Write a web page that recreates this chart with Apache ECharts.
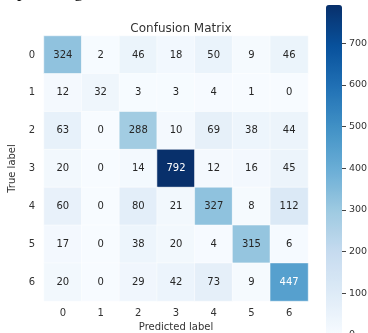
<!DOCTYPE html>
<html>
<head>
<meta charset="utf-8">
<script src="https://cdn.jsdelivr.net/npm/echarts@6/dist/echarts.min.js"></script>
<style>
  html, body { margin: 0; padding: 0; background: #ffffff; }
  #chart { width: 368px; height: 333px; }
</style>
</head>
<body>
<div id="chart"></div>
<script>
// Class labels on both axes
const predictedLabels = ['0', '1', '2', '3', '4', '5', '6'];
const trueLabels = ['0', '1', '2', '3', '4', '5', '6'];

// Confusion counts, one row per true label
const row0 = [324, 2, 46, 18, 50, 9, 46];
const row1 = [12, 32, 3, 3, 4, 1, 0];
const row2 = [63, 0, 288, 10, 69, 38, 44];
const row3 = [20, 0, 14, 792, 12, 16, 45];
const row4 = [60, 0, 80, 21, 327, 8, 112];
const row5 = [17, 0, 38, 20, 4, 315, 6];
const row6 = [20, 0, 29, 42, 73, 9, 447];
const matrixRows = [row0, row1, row2, row3, row4, row5, row6];

// Colour bar range and ticks
const colorMin = 0;
const colorMax = 792;
const colorTicks = [0, 100, 200, 300, 400, 500, 600, 700];

// matplotlib "Blues" colour map stops
const blues = ['#f7fbff', '#deebf7', '#c6dbef', '#9ecae1', '#6baed6',
               '#4292c6', '#2171b5', '#08519c', '#08306b'];

const FONT = 'DejaVu Sans';
const TEXT = '#333333';

const cells = [];
matrixRows.forEach((row, r) => {
  row.forEach((v, c) => {
    cells.push({
      value: [c, r, v],
      label: { color: v > 0.5 * colorMax ? '#ffffff' : '#262626' }
    });
  });
});

const chart = echarts.init(document.getElementById('chart'), null, { renderer: 'canvas' });

chart.setOption({
  animation: false,
  backgroundColor: '#ffffff',
  title: {
    text: 'Confusion Matrix',
    left: 176,
    textAlign: 'center',
    top: 18,
    textStyle: { fontFamily: FONT, fontSize: 12, fontWeight: 'normal', color: TEXT }
  },
  grid: [
    { left: 44, right: 60, top: 36, bottom: 32, outerBoundsMode: 'none', containLabel: false },
    { left: 326, width: 16, top: 5, height: 330, outerBoundsMode: 'none', containLabel: false }
  ],
  xAxis: [
    {
      type: 'category',
      gridIndex: 0,
      data: predictedLabels,
      name: 'Predicted label',
      nameLocation: 'middle',
      nameGap: 19,
      nameTextStyle: { fontFamily: FONT, fontSize: 10, color: TEXT },
      axisLine: { show: false },
      axisTick: { show: false },
      splitLine: { show: false },
      axisLabel: { fontFamily: FONT, fontSize: 10, color: TEXT, margin: 7 }
    },
    {
      type: 'value',
      gridIndex: 1,
      min: 0,
      max: 1,
      show: false
    }
  ],
  yAxis: [
    {
      type: 'category',
      gridIndex: 0,
      data: trueLabels,
      inverse: true,
      name: 'True label',
      nameLocation: 'middle',
      nameGap: 18,
      nameRotate: 90,
      nameTextStyle: { fontFamily: FONT, fontSize: 10, color: TEXT },
      axisLine: { show: false },
      axisTick: { show: false },
      splitLine: { show: false },
      axisLabel: { fontFamily: FONT, fontSize: 10, color: TEXT, margin: 9 }
    },
    {
      // colour bar scale, placed on the right edge of the bar
      type: 'value',
      gridIndex: 1,
      position: 'right',
      min: colorMin,
      max: colorMax,
      interval: 100,
      axisLine: { show: false, onZero: false },
      axisTick: { show: true, length: 4, inside: false, lineStyle: { color: '#444444', width: 1 } },
      splitLine: { show: false },
      axisLabel: {
        fontFamily: FONT, fontSize: 9.5, color: TEXT, margin: 7,
        showMinLabel: true, showMaxLabel: false,
        formatter: v => (colorTicks.indexOf(v) >= 0 ? String(v) : '')
      }
    }
  ],
  visualMap: {
    type: 'continuous',
    seriesIndex: 0,
    min: colorMin,
    max: colorMax,
    calculable: false,
    realtime: false,
    orient: 'vertical',
    left: 326,
    top: 5,
    itemWidth: 16,
    itemHeight: 330,
    padding: 0,
    text: ['', ''],
    showLabel: false,
    inRange: { color: blues }
  },
  series: [
    {
      type: 'heatmap',
      xAxisIndex: 0,
      yAxisIndex: 0,
      data: cells,
      itemStyle: { borderColor: '#ffffff', borderWidth: 0.5 },
      label: { show: true, fontFamily: FONT, fontSize: 10 },
      emphasis: { disabled: true }
    }
  ],
  graphic: [
    {
      type: 'text', left: 17, top: -17,
      style: { text: 'p', fontFamily: 'Liberation Serif', fontSize: 18, fill: '#000000' }
    },
    {
      type: 'text', left: 74, top: -17,
      style: { text: 'g', fontFamily: 'Liberation Serif', fontSize: 18, fill: '#000000' }
    }
  ]
});
</script>
</body>
</html>
